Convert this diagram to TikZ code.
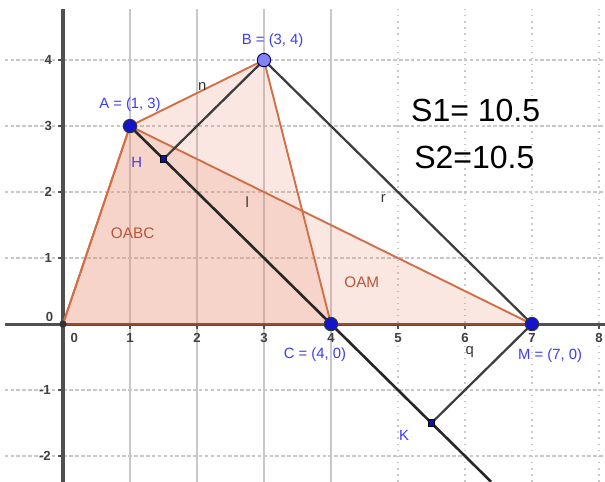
\documentclass[tikz,border=0pt]{standalone}
\usepackage{fontspec}
\setmainfont{Liberation Sans}
\definecolor{gridc}{RGB}{200,200,200}
\definecolor{axisc}{RGB}{80,80,80}
\definecolor{polyc}{RGB}{210,110,70}
\definecolor{polyfc}{RGB}{232,135,105}
\definecolor{polytxt}{RGB}{185,85,55}
\definecolor{ptblue}{RGB}{20,20,200}
\definecolor{ptlight}{RGB}{130,130,240}
\definecolor{lblblue}{RGB}{60,60,240}
\definecolor{segc}{RGB}{60,60,60}
\begin{document}
\begin{tikzpicture}[x=1cm,y=0.985cm,
  gridh/.style={draw=gridc, line width=0.5pt, dash pattern=on 1.5pt off 1pt},
  gridv/.style={draw=gridc, line width=0.5pt},
  gridvd/.style={draw=gridc, line width=0.6pt, dotted},
  axisline/.style={draw=axisc, line width=1.3pt},
  ticklbl/.style={font=\fontsize{5.6}{6}\selectfont\bfseries, text=black!75, inner sep=0pt},
  polyfill/.style={fill=polyfc, fill opacity=0.2},
  polyedge/.style={draw=polyc, line width=0.8pt, line join=round},
  seg/.style={draw=segc, line width=0.95pt},
  bigpt/.style={circle, fill=ptblue, draw=black!80, line width=0.4pt, minimum size=0.2cm, inner sep=0pt},
  smallpt/.style={rectangle, fill=ptblue!80!black, draw=black, line width=0.3pt, minimum size=0.1cm, inner sep=0pt},
  ptlbl/.style={font=\fontsize{6.3}{7}\selectfont, text=lblblue, inner sep=0pt},
  seglbl/.style={font=\fontsize{6.3}{7}\selectfont, text=black!80, inner sep=0pt},
  polylbl/.style={font=\fontsize{6.5}{7}\selectfont, text=polytxt, inner sep=0pt},
  bigtxt/.style={font=\fontsize{13.6}{15}\selectfont, text=black, inner sep=0pt}
]
\useasboundingbox (-0.94,-2.39) rectangle (8.09,4.91);

% grid
\foreach \y in {-2,-1,1,2,3,4} \draw[gridh] (-0.87,\y) -- (8.09,\y);
\foreach \x in {1,2,3,4} \draw[gridv] (\x,-2.39) -- (\x,4.77);
\foreach \x in {5,6,7,8} \draw[gridvd] (\x,-2.39) -- (\x,4.77);

% points
\coordinate (O) at (0,0);
\coordinate (A) at (1,3);
\coordinate (B) at (3,4);
\coordinate (C) at (4,0);
\coordinate (M) at (7,0);
\coordinate (H) at (1.5,2.5);
\coordinate (K) at (5.5,-1.5);
\coordinate (E) at (6.39,-2.39);

% polygon fills
\fill[polyfill] (O) -- (A) -- (B) -- (C) -- cycle;
\fill[polyfill] (O) -- (A) -- (M) -- cycle;

% axes
\draw[axisline] (-0.87,0) -- (8.09,0);
\draw[axisline] (0,-2.39) -- (0,4.77);
\foreach \x in {1,...,8} \draw[axisc, line width=0.6pt] (\x,0) -- (\x,-0.07);
\foreach \y in {-2,-1,1,2,3,4} \draw[axisc, line width=0.6pt] (0,\y) -- (-0.07,\y);

% tick labels
\node[ticklbl] (x0) at (0.17,-0.21) {0};
\foreach \x in {1,...,8} \node[ticklbl] (x\x) at (\x,-0.21) {\x};
\foreach \y in {1,2,3,4} \node[ticklbl] (y\y) at (-0.22,\y) {\y};
\node[ticklbl] (y0) at (-0.2,0.1) {0};
\node[ticklbl] (ym1) at (-0.27,-1) {-1};
\node[ticklbl] (ym2) at (-0.27,-2) {-2};

% polygon edges
\draw[polyedge] (O) -- (A) -- (B) -- (C) -- cycle;
\draw[polyedge] (O) -- (A) -- (M) -- cycle;
\draw[draw=polyc!70!black, line width=1.1pt] (O) -- (M);

% segments
\draw[seg, line width=1.1pt, draw=black!85] (A) -- (E);
\draw[seg] (B) -- (H);
\draw[seg] (B) -- (M);
\draw[seg] (M) -- (K);

% point markers
\node[circle, fill=black!80, minimum size=0.11cm, inner sep=0pt] (Op) at (O) {};
\node[bigpt] (Ap) at (A) {};
\node[bigpt, fill=ptlight, draw=black!60!blue] (Bp) at (B) {};
\node[bigpt] (Cp) at (C) {};
\node[bigpt] (Mp) at (M) {};
\node[smallpt] (Hp) at (H) {};
\node[smallpt] (Kp) at (K) {};

% point labels
\node[ptlbl] (Al) at (1.0,3.32) {A = (1, 3)};
\node[ptlbl] (Bl) at (3.13,4.30) {B = (3, 4)};
\node[ptlbl] (Cl) at (3.76,-0.47) {C = (4, 0)};
\node[ptlbl] (Ml) at (7.27,-0.48) {M = (7, 0)};
\node[ptlbl] (Hl) at (1.1,2.45) {H};
\node[ptlbl] (Kl) at (5.09,-1.68) {K};

% segment labels
\node[seglbl] (nl) at (2.08,3.6) {n};
\node[seglbl] (ll) at (2.75,1.85) {l};
\node[seglbl] (rl) at (4.78,1.9) {r};
\node[seglbl] (ql) at (6.07,-0.42) {q};

% polygon labels
\node[polylbl] (oabc) at (1.04,1.38) {OABC};
\node[polylbl] (oam) at (4.46,0.64) {OAM};

% areas
\node[bigtxt] (S1) at (6.16,3.23) {S1= 10.5};
\node[bigtxt] (S2) at (6.14,2.53) {S2=10.5};
\end{tikzpicture}
\end{document}
